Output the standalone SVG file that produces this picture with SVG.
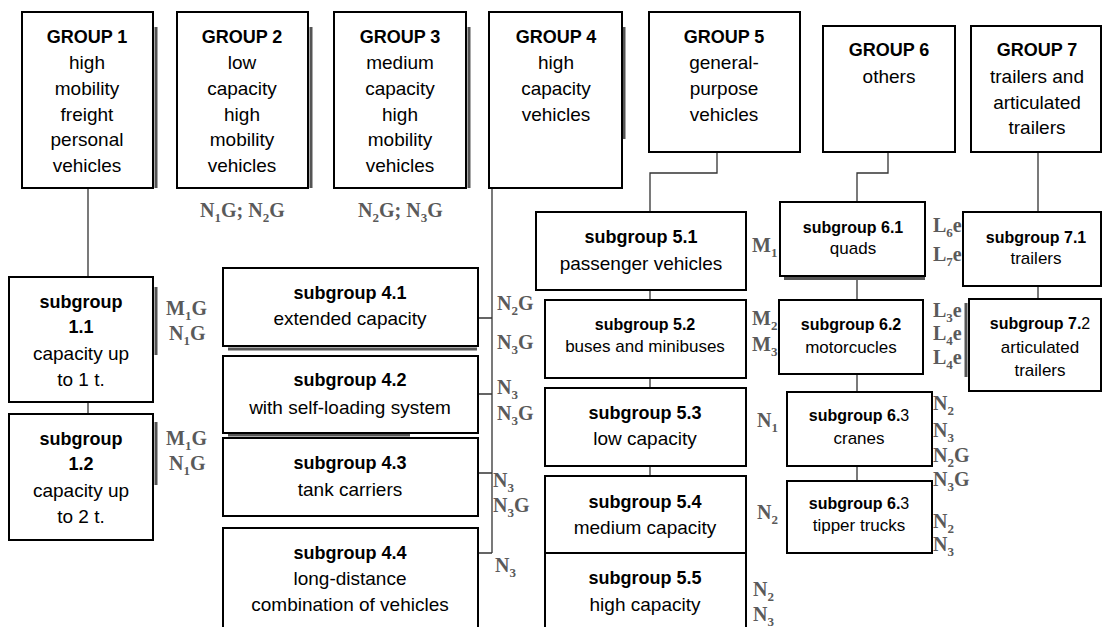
<svg xmlns="http://www.w3.org/2000/svg" width="1103" height="627" viewBox="0 0 1103 627">
<style>
.box{fill:#fff;stroke:#000;stroke-width:2}
.sh{stroke:#555;stroke-width:3;fill:none}
.con{stroke:#333;stroke-width:1.3;fill:none}
text{font-family:"Liberation Sans",Arial,sans-serif;fill:#000;text-anchor:middle}
.b{font-weight:bold;font-size:18px}
.r{font-size:19px}
.bs{font-weight:bold;font-size:16px}
.rs{font-size:17px}
.n{font-weight:normal}
.lb{font-family:"Liberation Serif","Times New Roman",serif;font-weight:bold;font-size:20px;fill:#5a5a5a;text-anchor:start}
.sub{font-size:13px}
</style>
<rect width="1103" height="627" fill="#fff"/>
<g id="connectors">
<path class="con" d="M88 188V277M88 402V414"/>
<path class="con" d="M492 188V553M478 318H492M478 394H492M478 473H492M478 553H492"/>
<path class="con" d="M717 152V173H650V212M650 290V300M650 378V388M650 466V476"/>
<path class="con" d="M888 152V173H857V202M857 276V300M857 374V392M857 466V481"/>
<path class="con" d="M1038 152V212M1038 286V299"/>
</g>
<g id="shadows">
<path class="sh" d="M156 27V188M311 27V188M469 27V188M624 27V139M156 287V355M156 422V485M228 349H477M228 435H410M784 278.5H925M966 303V377"/>
</g>
<g id="group1"><rect class="box" x="22" y="12" width="131" height="176"/>
<text x="87" y="43" class="b">GROUP 1</text><text x="87" y="69" class="r">high</text><text x="87" y="95" class="r">mobility</text><text x="87" y="120.5" class="r">freight</text><text x="87" y="146" class="r">personal</text><text x="87" y="172" class="r">vehicles</text></g>
<g id="group2"><rect class="box" x="177" y="12" width="131" height="176"/>
<text x="242" y="43" class="b">GROUP 2</text><text x="242" y="69" class="r">low</text><text x="242" y="95" class="r">capacity</text><text x="242" y="120.5" class="r">high</text><text x="242" y="146" class="r">mobility</text><text x="242" y="172" class="r">vehicles</text></g>
<g id="group3"><rect class="box" x="334" y="12" width="132" height="176"/>
<text x="400" y="43" class="b">GROUP 3</text><text x="400" y="69" class="r">medium</text><text x="400" y="95" class="r">capacity</text><text x="400" y="120.5" class="r">high</text><text x="400" y="146" class="r">mobility</text><text x="400" y="172" class="r">vehicles</text></g>
<g id="group4"><rect class="box" x="489" y="12" width="133" height="176"/>
<text x="556" y="43" class="b">GROUP 4</text><text x="556" y="69" class="r">high</text><text x="556" y="95" class="r">capacity</text><text x="556" y="120.5" class="r">vehicles</text></g>
<g id="group5"><rect class="box" x="649" y="12" width="151" height="140"/>
<text x="724" y="43" class="b">GROUP 5</text><text x="724" y="69" class="r">general-</text><text x="724" y="95" class="r">purpose</text><text x="724" y="120.5" class="r">vehicles</text></g>
<g id="group6"><rect class="box" x="823" y="26" width="132" height="126"/>
<text x="889" y="56" class="b">GROUP 6</text><text x="889" y="83" class="r">others</text></g>
<g id="group7"><rect class="box" x="971" y="26" width="130" height="126"/>
<text x="1037" y="56" class="b">GROUP 7</text><text x="1037" y="83" class="r">trailers and</text><text x="1037" y="109" class="r">articulated</text><text x="1037" y="134" class="r">trailers</text></g>
<g id="sub1-1"><rect class="box" x="9" y="277" width="144" height="125"/>
<text x="81" y="308" class="b">subgroup</text><text x="81" y="333" class="b">1.1</text><text x="81" y="359.5" class="r">capacity up</text><text x="81" y="385.5" class="r">to 1 t.</text></g>
<g id="sub1-2"><rect class="box" x="9" y="414" width="144" height="126"/>
<text x="81" y="445" class="b">subgroup</text><text x="81" y="470" class="b">1.2</text><text x="81" y="496.5" class="r">capacity up</text><text x="81" y="522.5" class="r">to 2 t.</text></g>
<g id="sub4-1"><rect class="box" x="223" y="268" width="255" height="78"/>
<text x="350" y="299" class="b">subgroup 4.1</text><text x="350" y="324.5" class="r">extended capacity</text></g>
<g id="sub4-2"><rect class="box" x="223" y="356" width="255" height="77"/>
<text x="350" y="386" class="b">subgroup 4.2</text><text x="350" y="413.5" class="r">with self-loading system</text></g>
<g id="sub4-3"><rect class="box" x="223" y="438" width="255" height="78"/>
<text x="350" y="469" class="b">subgroup 4.3</text><text x="350" y="495.5" class="r">tank carriers</text></g>
<g id="sub4-4"><rect class="box" x="223" y="528" width="255" height="112"/>
<text x="350" y="559" class="b">subgroup 4.4</text><text x="350" y="584.5" class="r">long-distance</text><text x="350" y="610.5" class="r">combination of vehicles</text></g>
<g id="sub5-1"><rect class="box" x="536" y="212" width="210" height="78"/>
<text x="641" y="243" class="b">subgroup 5.1</text><text x="641" y="269.5" class="r">passenger vehicles</text></g>
<g id="sub5-2"><rect class="box" x="545" y="300" width="201" height="78"/>
<text x="645" y="329.5" class="bs">subgroup 5.2</text><text x="645" y="352" class="rs">buses and minibuses</text></g>
<g id="sub5-3"><rect class="box" x="545" y="388" width="201" height="78"/>
<text x="645" y="419" class="b">subgroup 5.3</text><text x="645" y="444.5" class="r">low capacity</text></g>
<g id="sub5-4"><rect class="box" x="545" y="476" width="201" height="77"/>
<text x="645" y="508" class="b">subgroup 5.4</text><text x="645" y="533.5" class="r">medium capacity</text></g>
<g id="sub5-5"><rect class="box" x="545" y="553" width="201" height="87"/>
<text x="645" y="584" class="b">subgroup 5.5</text><text x="645" y="610.5" class="r">high capacity</text></g>
<g id="sub6-1"><rect class="box" x="780" y="202" width="145" height="74"/>
<text x="853" y="232.5" class="bs">subgroup 6.1</text><text x="853" y="254" class="rs">quads</text></g>
<g id="sub6-2"><rect class="box" x="779" y="300" width="144" height="74"/>
<text x="851" y="330" class="bs">subgroup 6.2</text><text x="851" y="352.5" class="rs">motorcucles</text></g>
<g id="sub6-3a"><rect class="box" x="787" y="392" width="145" height="74"/>
<text x="859" y="421" class="bs">subgroup 6.<tspan class="n">3</tspan></text><text x="859" y="443.5" class="rs">cranes</text></g>
<g id="sub6-3b"><rect class="box" x="787" y="481" width="145" height="72"/>
<text x="859" y="508.5" class="bs">subgroup 6.<tspan class="n">3</tspan></text><text x="859" y="531" class="rs">tipper trucks</text></g>
<g id="sub7-1"><rect class="box" x="963" y="212" width="138" height="74"/>
<text x="1036" y="242.5" class="bs">subgroup 7.1</text><text x="1036" y="264" class="rs">trailers</text></g>
<g id="sub7-2"><rect class="box" x="969" y="299" width="132" height="92"/>
<text x="1040" y="328.5" class="bs">subgroup 7.<tspan class="n">2</tspan></text><text x="1040" y="353" class="rs">articulated</text><text x="1040" y="376" class="rs">trailers</text></g>
<g id="labels">
<text class="lb" x="200" y="217">N<tspan class="sub" dy="5">1</tspan><tspan dy="-5">G;  N</tspan><tspan class="sub" dy="5">2</tspan><tspan dy="-5">G</tspan></text>
<text class="lb" x="358" y="217">N<tspan class="sub" dy="5">2</tspan><tspan dy="-5">G; N</tspan><tspan class="sub" dy="5">3</tspan><tspan dy="-5">G</tspan></text>
<text class="lb" x="166" y="315">M<tspan class="sub" dy="5">1</tspan><tspan dy="-5">G</tspan></text>
<text class="lb" x="169" y="340">N<tspan class="sub" dy="5">1</tspan><tspan dy="-5">G</tspan></text>
<text class="lb" x="166" y="445">M<tspan class="sub" dy="5">1</tspan><tspan dy="-5">G</tspan></text>
<text class="lb" x="169" y="470">N<tspan class="sub" dy="5">1</tspan><tspan dy="-5">G</tspan></text>
<text class="lb" x="497" y="310">N<tspan class="sub" dy="5">2</tspan><tspan dy="-5">G</tspan></text>
<text class="lb" x="497" y="349">N<tspan class="sub" dy="5">3</tspan><tspan dy="-5">G</tspan></text>
<text class="lb" x="497" y="394">N<tspan class="sub" dy="5">3</tspan></text>
<text class="lb" x="497" y="420">N<tspan class="sub" dy="5">3</tspan><tspan dy="-5">G</tspan></text>
<text class="lb" x="493" y="487">N<tspan class="sub" dy="5">3</tspan></text>
<text class="lb" x="493" y="512">N<tspan class="sub" dy="5">3</tspan><tspan dy="-5">G</tspan></text>
<text class="lb" x="495" y="572">N<tspan class="sub" dy="5">3</tspan></text>
<text class="lb" x="752" y="252">M<tspan class="sub" dy="5">1</tspan></text>
<text class="lb" x="752" y="325">M<tspan class="sub" dy="5">2</tspan></text>
<text class="lb" x="752" y="351">M<tspan class="sub" dy="5">3</tspan></text>
<text class="lb" x="757" y="427">N<tspan class="sub" dy="5">1</tspan></text>
<text class="lb" x="757" y="519">N<tspan class="sub" dy="5">2</tspan></text>
<text class="lb" x="753" y="596">N<tspan class="sub" dy="5">2</tspan></text>
<text class="lb" x="753" y="621">N<tspan class="sub" dy="5">3</tspan></text>
<text class="lb" x="933" y="232">L<tspan class="sub" dy="5">6</tspan><tspan dy="-5">e</tspan></text>
<text class="lb" x="933" y="261">L<tspan class="sub" dy="5">7</tspan><tspan dy="-5">e</tspan></text>
<text class="lb" x="933" y="317">L<tspan class="sub" dy="5">3</tspan><tspan dy="-5">e</tspan></text>
<text class="lb" x="933" y="340">L<tspan class="sub" dy="5">4</tspan><tspan dy="-5">e</tspan></text>
<text class="lb" x="933" y="364">L<tspan class="sub" dy="5">4</tspan><tspan dy="-5">e</tspan></text>
<text class="lb" x="933" y="410">N<tspan class="sub" dy="5">2</tspan></text>
<text class="lb" x="933" y="437">N<tspan class="sub" dy="5">3</tspan></text>
<text class="lb" x="933" y="462">N<tspan class="sub" dy="5">2</tspan><tspan dy="-5">G</tspan></text>
<text class="lb" x="933" y="486">N<tspan class="sub" dy="5">3</tspan><tspan dy="-5">G</tspan></text>
<text class="lb" x="933" y="528">N<tspan class="sub" dy="5">2</tspan></text>
<text class="lb" x="933" y="551">N<tspan class="sub" dy="5">3</tspan></text>
</g>
</svg>
